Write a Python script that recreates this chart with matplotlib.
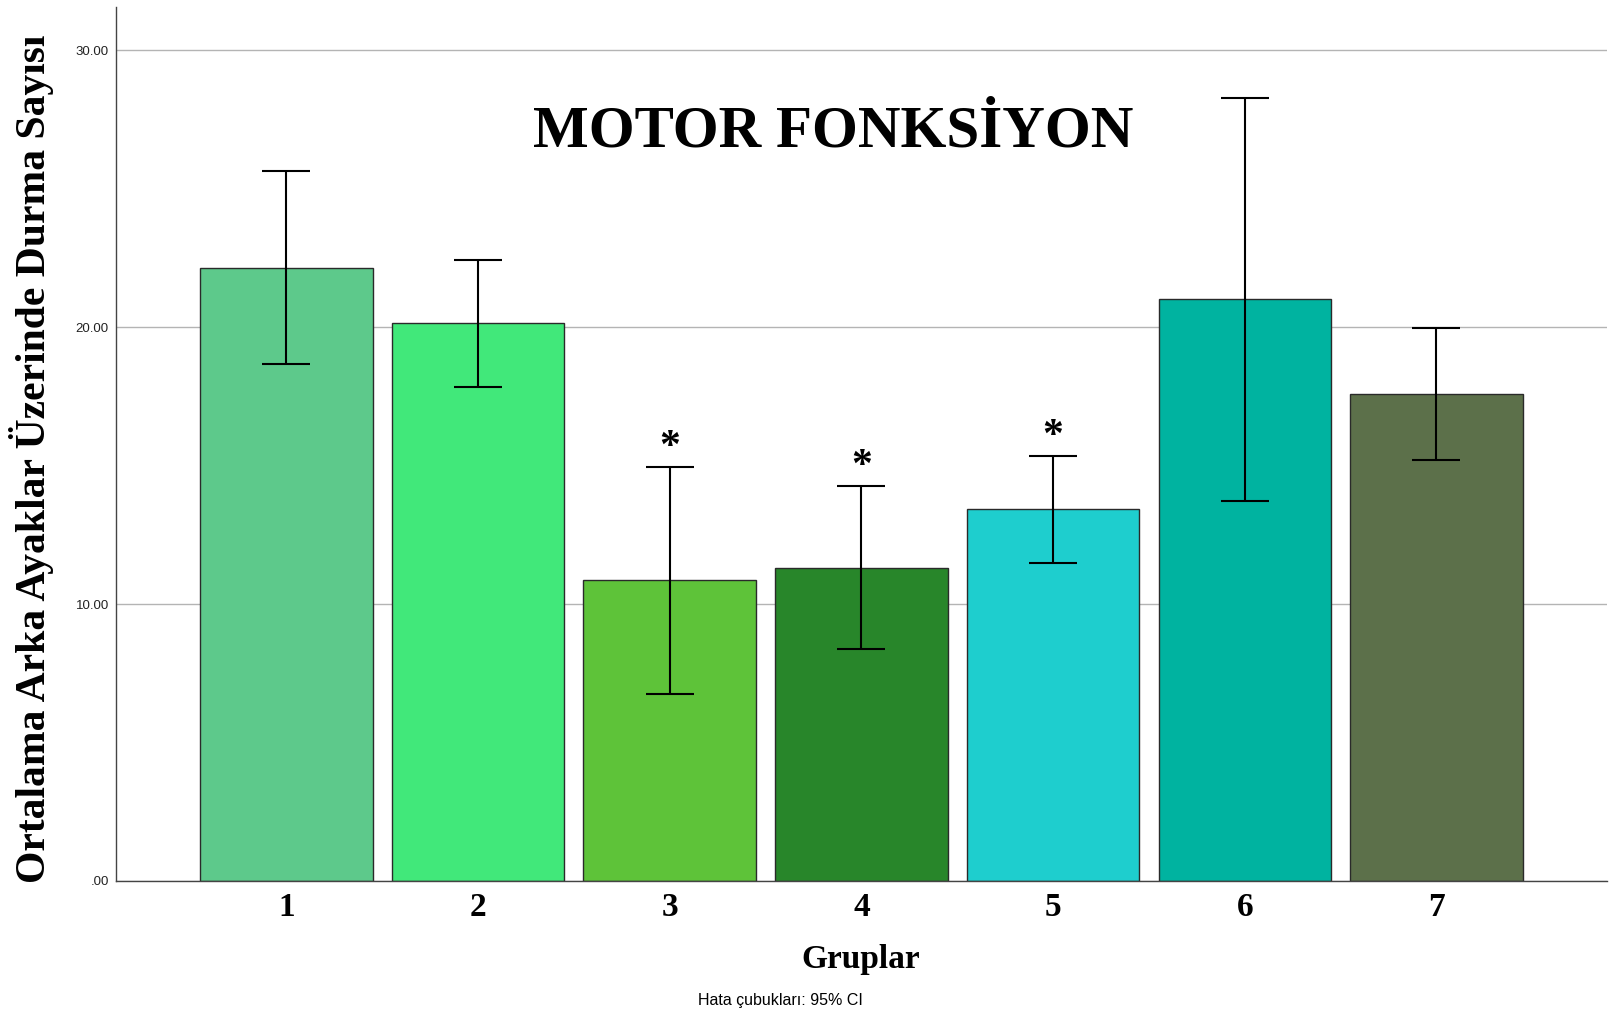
import numpy as np
import matplotlib.pyplot as plt

# group means and 95% CI bounds
groups = ['1', '2', '3', '4', '5', '6', '7']
means = [22.15, 20.15, 10.87, 11.29, 13.43, 21.01, 17.58]
ci_low = [18.66, 17.85, 6.76, 8.36, 11.50, 13.73, 15.19]
ci_high = [25.62, 22.44, 14.95, 14.25, 15.36, 28.29, 19.96]
signif = ['', '', '*', '*', '*', '', '']
colors = ['#5DC98B', '#41E87A', '#5EC339', '#28862A', '#1ECECE', '#00B3A0', '#5C704A']
yticks = [0, 10, 20, 30]
ytick_labels = ['.00', '10.00', '20.00', '30.00']

serif = ['Liberation Serif', 'DejaVu Serif']
sans = ['Liberation Sans', 'DejaVu Sans']

fig = plt.figure(figsize=(16.09, 10.14), dpi=100)
ax = fig.add_axes([0.0719, 0.1312, 0.9269, 0.8619])

x = np.arange(1, len(groups) + 1)
m = np.array(means)
err = np.array([m - np.array(ci_low), np.array(ci_high) - m])

ax.bar(x, m, width=0.9, color=colors, edgecolor='#2a2a2a', linewidth=1.0, zorder=2)
ax.errorbar(x, m, yerr=err, fmt='none', ecolor='black', elinewidth=1.5,
            capsize=17, capthick=1.5, zorder=3)

for xi, hi, s in zip(x, ci_high, signif):
    if s:
        ax.annotate(s, (xi, hi), xytext=(0, 0), textcoords='offset points',
                    ha='center', va='bottom', fontsize=30, fontweight='bold',
                    family=serif)

ax.set_xlim(0.11, 7.89)
ax.set_ylim(0, 31.56)
ax.set_xticks(x)
ax.set_xticklabels(groups, fontsize=24, fontweight='bold', family=serif)
ax.set_yticks(yticks)
ax.set_yticklabels(ytick_labels, fontsize=9.5, family=sans, color='#222222')
ax.tick_params(axis='y', length=0, pad=5)
ax.tick_params(axis='x', length=0, pad=8)

ax.grid(axis='y', color='#b4b4b4', linewidth=1.0, zorder=0)
ax.set_axisbelow(True)
for side in ['top', 'right']:
    ax.spines[side].set_visible(False)
for side in ['left', 'bottom']:
    ax.spines[side].set_color('#444444')
    ax.spines[side].set_linewidth(1.0)

fig.text(0.5177, 0.869, 'MOTOR FONKSİYON', ha='center', va='center',
         fontsize=42.5, fontweight='bold', family=serif)
fig.text(0.535, 0.054, 'Gruplar', ha='center', va='center',
         fontsize=24, fontweight='bold', family=serif)
fig.text(0.0193, 0.548, 'Ortalama Arka Ayaklar Üzerinde Durma Sayısı',
         ha='center', va='center', rotation=90, fontsize=30,
         fontweight='bold', family=serif)
fig.text(0.485, 0.013, 'Hata çubukları: 95% CI', ha='center', va='center',
         fontsize=11.5, family=sans)

fig.savefig('out.png', dpi=100)
